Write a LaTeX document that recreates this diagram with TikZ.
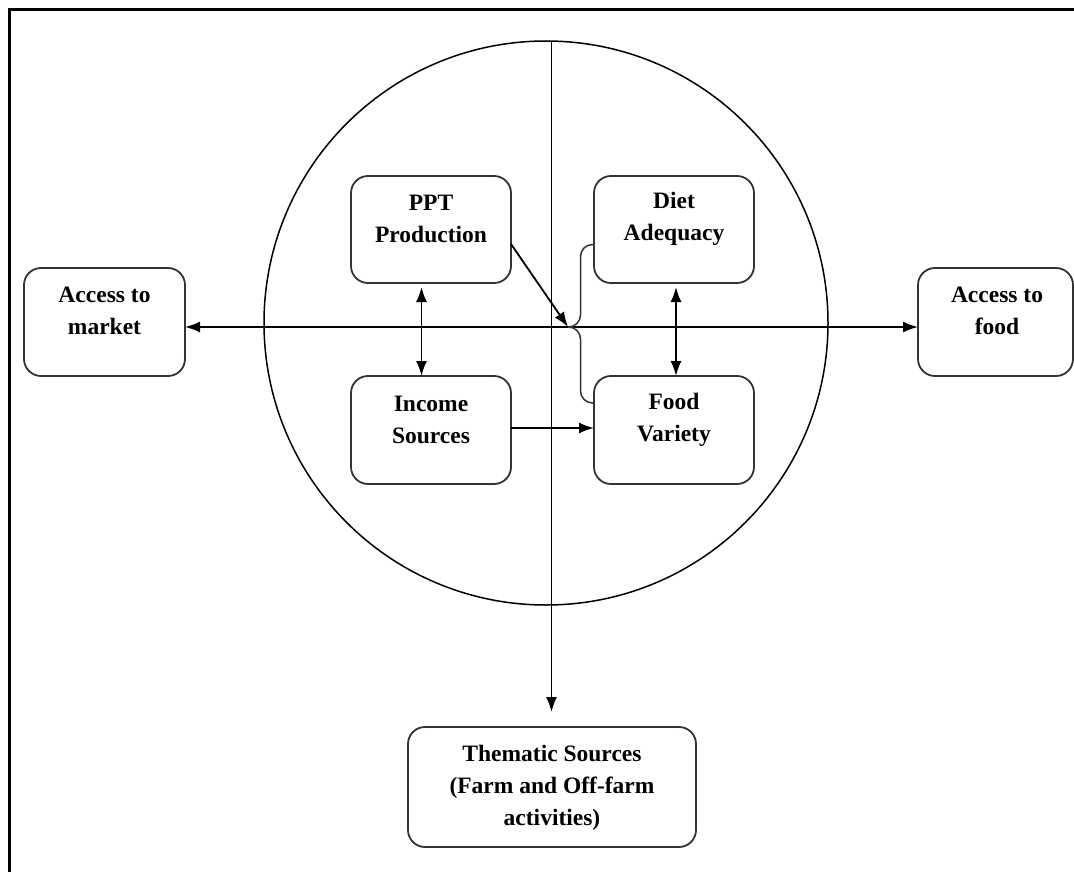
\documentclass[tikz,border=0pt]{standalone}
\usepackage{fontspec}
\setmainfont{Liberation Serif}
\usetikzlibrary{arrows.meta,calc}
\begin{document}
\begin{tikzpicture}[x=1pt,y=-1pt,
  box/.style={draw=black!80,line width=1.8pt,rounded corners=17pt,inner sep=0pt,outer sep=0pt,minimum width=160pt,minimum height=108pt},
  lbl/.style={align=center,inner sep=0pt,font=\fontsize{23.5}{32}\selectfont\bfseries},
  conn/.style={line width=1.8pt,black},
  tip/.style={-{Latex[length=15pt,width=11pt]}},
  both/.style={{Latex[length=15pt,width=11pt]}-{Latex[length=15pt,width=11pt]}}]
\useasboundingbox (0,0) rectangle (1074,872);
% frame
\draw[line width=3pt] (9,872) -- (9,10) -- (1074,10);
% circle
\node[draw,circle,line width=1.5pt,minimum size=564pt,inner sep=0pt] (circ) at (546,323) {};
% boxes
\node[box,minimum width=161pt] (market) at (104.5,322) {};
\node[box,minimum width=155pt] (food) at (995.5,322) {};
\node[box,minimum height=107pt] (ppt) at (431,229.5) {};
\node[box,minimum height=107pt] (diet) at (674,229.5) {};
\node[box] (income) at (431,430) {};
\node[box] (variety) at (674,430) {};
\node[box,minimum width=288pt,minimum height=120pt] (thematic) at (552,787) {};
% labels
\node[lbl] (market-t) at (104.5,311) {Access to\\market};
\node[lbl] (food-t) at (997,311) {Access to\\food};
\node[lbl] (ppt-t) at (431,219) {PPT\\Production};
\node[lbl] (diet-t) at (674,219) {Diet\\Adequacy};
\node[lbl] (income-t) at (431,420) {Income\\Sources};
\node[lbl] (variety-t) at (674,420) {Food\\Variety};
\node[lbl] (thematic-t) at (552,788) {Thematic Sources\\(Farm and Off-farm\\activities)};
% axes
\coordinate (vtop) at (551.5,41);
\coordinate (hub) at (568,327);
\coordinate (bmid) at (580.5,327);
\draw[conn,both] ([yshift=-5pt]market.east) -- ([yshift=-5pt]food.west);
\draw[conn,tip,shorten >=15pt] (vtop) -- (vtop |- thematic.north);
% inner connectors
\draw[conn,both,shorten <=4pt] ([xshift=-9.5pt]ppt.south) -- ([xshift=-9.5pt]income.north);
\draw[conn,both,shorten <=4pt] ([xshift=2pt]diet.south) -- ([xshift=2pt]variety.north);
\draw[conn,tip] ([yshift=2pt]income.east) -- ([yshift=2pt]variety.west);
\draw[conn,tip] ([yshift=-14.5pt]ppt.east) -- (hub);
\draw[line width=1.5pt,black!80,rounded corners=12pt] ([yshift=-15pt]diet.west) -| (bmid) -- (hub);
\draw[line width=1.5pt,black!80,rounded corners=12pt] (hub) -- (bmid) |- ([yshift=27pt]variety.west);
\end{tikzpicture}
\end{document}
